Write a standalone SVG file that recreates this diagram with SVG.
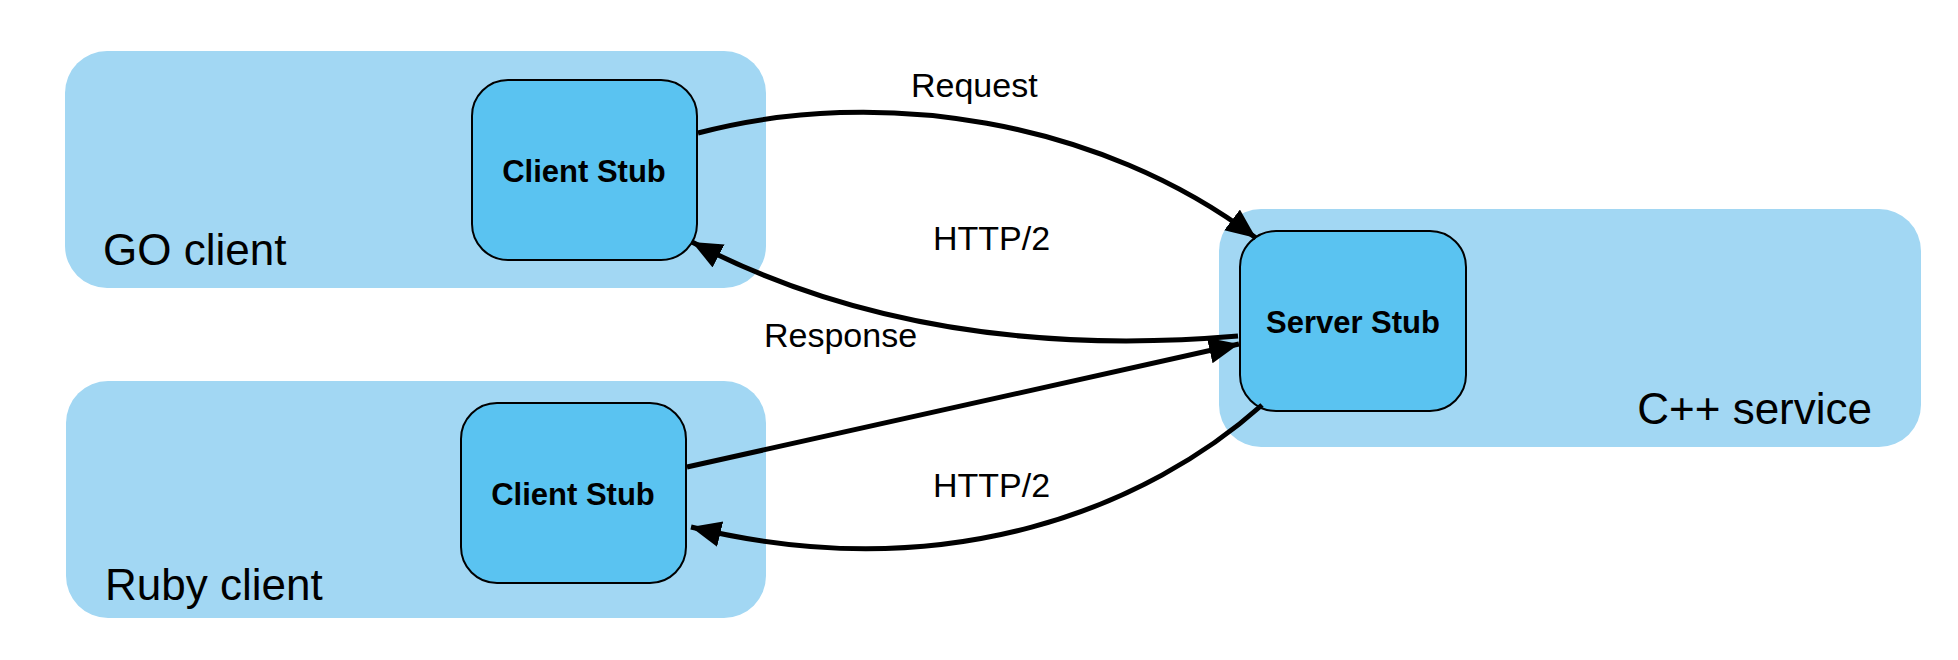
<svg xmlns="http://www.w3.org/2000/svg" width="1958" height="660" viewBox="0 0 1958 660">
<style>
.outer{fill:#A2D7F3;}
.inner{fill:#5AC3F1;stroke:#000;stroke-width:2;}
.big{font-family:"Liberation Sans",Arial,sans-serif;font-size:44px;fill:#000;}
.stub{font-family:"Liberation Sans",Arial,sans-serif;font-size:31px;font-weight:bold;fill:#000;text-anchor:middle;}
.lbl{font-family:"Liberation Sans",Arial,sans-serif;font-size:34px;fill:#000;}
.edge{fill:none;stroke:#000;stroke-width:5;}
</style>
<defs>
<marker id="arr" markerUnits="userSpaceOnUse" markerWidth="32" markerHeight="28" refX="30" refY="13" orient="auto">
<path d="M0,0 L30,13 L0,26 z" fill="#000"/>
</marker>
</defs>
<rect width="1958" height="660" fill="#fff"/>
<g id="go-client">
<rect class="outer" x="65" y="51" width="701" height="237" rx="42" ry="42"/>
<text class="big" x="103" y="265">GO client</text>
</g>
<g id="ruby-client">
<rect class="outer" x="66" y="381" width="700" height="237" rx="42" ry="42"/>
<text class="big" x="105" y="600">Ruby client</text>
</g>
<g id="cpp-service">
<rect class="outer" x="1219" y="209" width="702" height="238" rx="42" ry="42"/>
<text class="big" x="1872" y="424" text-anchor="end">C++ service</text>
</g>
<g id="go-stub">
<rect class="inner" x="472" y="80" width="225" height="180" rx="36" ry="36"/>
<text class="stub" x="584" y="182">Client Stub</text>
</g>
<g id="ruby-stub">
<rect class="inner" x="461" y="403" width="225" height="180" rx="36" ry="36"/>
<text class="stub" x="573" y="505">Client Stub</text>
</g>
<g id="server-stub">
<rect class="inner" x="1240" y="231" width="226" height="180" rx="36" ry="36"/>
<text class="stub" x="1353" y="333">Server Stub</text>
</g>
<g id="connectors">
<path class="edge" d="M698 133 C880 85 1100 120 1256 238" marker-end="url(#arr)"/>
<path class="edge" d="M1238 336 C1050 352 860 330 692 242" marker-end="url(#arr)"/>
<path class="edge" d="M687 467 L1239 344" marker-end="url(#arr)"/>
<path class="edge" d="M1262 405 C1150 505 950 590 691 527" marker-end="url(#arr)"/>
<text class="lbl" x="911" y="97">Request</text>
<text class="lbl" x="933" y="250">HTTP/2</text>
<text class="lbl" x="764" y="347">Response</text>
<text class="lbl" x="933" y="497">HTTP/2</text>
</g>
</svg>
